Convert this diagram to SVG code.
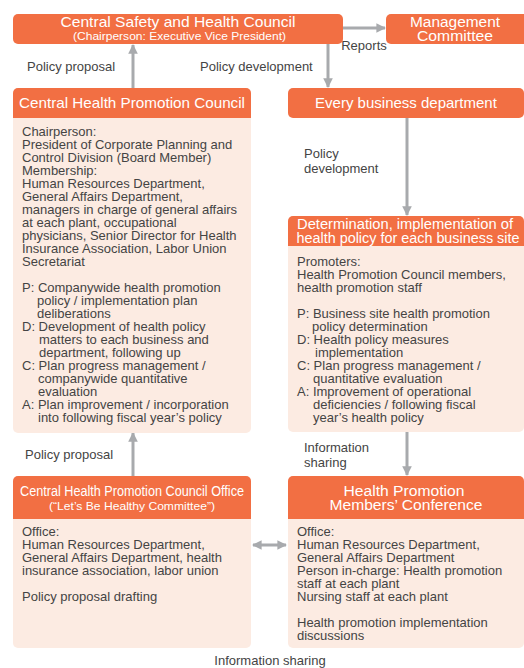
<svg xmlns="http://www.w3.org/2000/svg" width="524" height="668" viewBox="0 0 524 668">
<defs>
<style>
.hdr{fill:#F26F43}
.body{fill:#FCEBE2}
.ht{font-family:"Liberation Sans",Arial,sans-serif;fill:#fff;font-size:15px;text-anchor:middle}
.h2{font-family:"Liberation Sans",Arial,sans-serif;fill:#fff;font-size:14px;text-anchor:middle}
.hs{font-family:"Liberation Sans",Arial,sans-serif;fill:#fff;font-size:11px;text-anchor:middle}
.bt{font-family:"Liberation Sans",Arial,sans-serif;fill:#444;font-size:13px}
.lbl{font-family:"Liberation Sans",Arial,sans-serif;fill:#444;font-size:13px}
.arr{stroke:#A8AAAD;stroke-width:3;fill:none}
</style>
<marker id="ah" viewBox="0 0 10 10" refX="9" refY="5" markerWidth="3.2" markerHeight="3.2" orient="auto-start-reverse" markerUnits="strokeWidth">
<path d="M0,0 L10,5 L0,10 z" fill="#A8AAAD"/>
</marker>
</defs>
<rect width="524" height="668" fill="#fff"/>

<g id="connectors">
<line class="arr" x1="343" y1="28" x2="385" y2="28" marker-end="url(#ah)"/>
<line class="arr" x1="133" y1="88" x2="133" y2="45" marker-end="url(#ah)"/>
<line class="arr" x1="328" y1="44" x2="328" y2="87" marker-end="url(#ah)"/>
<line class="arr" x1="407" y1="118" x2="407" y2="215" marker-end="url(#ah)"/>
<line class="arr" x1="407" y1="432" x2="407" y2="475" marker-end="url(#ah)"/>
<line class="arr" x1="133" y1="476" x2="133" y2="433" marker-end="url(#ah)"/>
<line class="arr" x1="253" y1="545" x2="286" y2="545" marker-start="url(#ah)" marker-end="url(#ah)"/>
<text class="lbl" x="364" y="50" text-anchor="middle">Reports</text>
<text class="lbl" x="27" y="71">Policy proposal</text>
<text class="lbl" x="200" y="71">Policy development</text>
<text class="lbl" x="304" y="158">Policy</text>
<text class="lbl" x="304" y="173">development</text>
<text class="lbl" x="304" y="452">Information</text>
<text class="lbl" x="304" y="467">sharing</text>
<text class="lbl" x="25" y="459">Policy proposal</text>
<text class="lbl" x="270" y="665" text-anchor="middle">Information sharing</text>
</g>

<g id="central-safety-health-council">
<rect class="hdr" x="13" y="14" width="330" height="30" rx="5"/>
<text class="ht" x="178" y="27" textLength="235" lengthAdjust="spacingAndGlyphs">Central Safety and Health Council</text>
<text class="hs" x="179.5" y="40" textLength="213" lengthAdjust="spacingAndGlyphs">(Chairperson: Executive Vice President)</text>
</g>

<g id="management-committee">
<rect class="hdr" x="386" y="14" width="142" height="30" rx="5"/>
<text class="h2" x="455" y="27" textLength="90" lengthAdjust="spacingAndGlyphs">Management</text>
<text class="h2" x="455" y="41" textLength="76" lengthAdjust="spacingAndGlyphs">Committee</text>
</g>

<g id="central-health-promotion-council">
<rect class="body" x="13" y="88" width="238" height="345" rx="5"/>
<path class="hdr" d="M13,118 V93 a5,5 0 0 1 5,-5 H246 a5,5 0 0 1 5,5 V118 z"/>
<text class="ht" x="132" y="108" textLength="226" lengthAdjust="spacingAndGlyphs">Central Health Promotion Council</text>
<text class="bt">
<tspan x="22" y="136">Chairperson:</tspan>
<tspan x="22" dy="13">President of Corporate Planning and</tspan>
<tspan x="22" dy="13">Control Division (Board Member)</tspan>
<tspan x="22" dy="13">Membership:</tspan>
<tspan x="22" dy="13">Human Resources Department,</tspan>
<tspan x="22" dy="13">General Affairs Department,</tspan>
<tspan x="22" dy="13">managers in charge of general affairs</tspan>
<tspan x="22" dy="13">at each plant, occupational</tspan>
<tspan x="22" dy="13">physicians, Senior Director for Health</tspan>
<tspan x="22" dy="13">Insurance Association, Labor Union</tspan>
<tspan x="22" dy="13">Secretariat</tspan>
<tspan x="22" dy="26">P: Companywide health promotion</tspan>
<tspan x="37" dy="13">policy / implementation plan</tspan>
<tspan x="37" dy="13">deliberations</tspan>
<tspan x="22" dy="13">D: Development of health policy</tspan>
<tspan x="39" dy="13">matters to each business and</tspan>
<tspan x="39" dy="13">department, following up</tspan>
<tspan x="22" dy="13">C: Plan progress management /</tspan>
<tspan x="38" dy="13">companywide quantitative</tspan>
<tspan x="38" dy="13">evaluation</tspan>
<tspan x="22" dy="13">A: Plan improvement / incorporation</tspan>
<tspan x="38" dy="13">into following fiscal year’s policy</tspan>
</text>
</g>

<g id="every-business-department">
<rect class="hdr" x="288" y="88" width="236" height="30" rx="5"/>
<text class="ht" x="406" y="108">Every business department</text>
</g>

<g id="determination-implementation">
<rect class="body" x="288" y="216" width="236" height="216" rx="5"/>
<path class="hdr" d="M288,246 V221 a5,5 0 0 1 5,-5 H519 a5,5 0 0 1 5,5 V246 z"/>
<text class="h2" x="405" y="229" textLength="216" lengthAdjust="spacingAndGlyphs">Determination, implementation of</text>
<text class="h2" x="408" y="243" textLength="223" lengthAdjust="spacingAndGlyphs">health policy for each business site</text>
<text class="bt">
<tspan x="297" y="266">Promoters:</tspan>
<tspan x="297" dy="13">Health Promotion Council members,</tspan>
<tspan x="297" dy="13">health promotion staff</tspan>
<tspan x="297" dy="26">P: Business site health promotion</tspan>
<tspan x="312" dy="13">policy determination</tspan>
<tspan x="297" dy="13">D: Health policy measures</tspan>
<tspan x="315" dy="13">implementation</tspan>
<tspan x="297" dy="13">C: Plan progress management /</tspan>
<tspan x="313" dy="13">quantitative evaluation</tspan>
<tspan x="297" dy="13">A: Improvement of operational</tspan>
<tspan x="313" dy="13">deficiencies / following fiscal</tspan>
<tspan x="313" dy="13">year’s health policy</tspan>
</text>
</g>

<g id="chpc-office">
<rect class="body" x="13" y="476" width="238" height="172" rx="5"/>
<path class="hdr" d="M13,519 V481 a5,5 0 0 1 5,-5 H246 a5,5 0 0 1 5,5 V519 z"/>
<text class="h2" x="132" y="496" textLength="224" lengthAdjust="spacingAndGlyphs">Central Health Promotion Council Office</text>
<text class="hs" x="132" y="510" textLength="166" lengthAdjust="spacingAndGlyphs">(“Let’s Be Healthy Committee”)</text>
<text class="bt">
<tspan x="22" y="536">Office:</tspan>
<tspan x="22" dy="13">Human Resources Department,</tspan>
<tspan x="22" dy="13">General Affairs Department, health</tspan>
<tspan x="22" dy="13">insurance association, labor union</tspan>
<tspan x="22" dy="26">Policy proposal drafting</tspan>
</text>
</g>

<g id="health-promotion-members-conference">
<rect class="body" x="288" y="476" width="236" height="172" rx="5"/>
<path class="hdr" d="M288,519 V481 a5,5 0 0 1 5,-5 H519 a5,5 0 0 1 5,5 V519 z"/>
<text class="h2" x="404" y="496" textLength="121" lengthAdjust="spacingAndGlyphs">Health Promotion</text>
<text class="h2" x="406" y="510" textLength="153" lengthAdjust="spacingAndGlyphs">Members’ Conference</text>
<text class="bt">
<tspan x="297" y="536">Office:</tspan>
<tspan x="297" dy="13">Human Resources Department,</tspan>
<tspan x="297" dy="13">General Affairs Department</tspan>
<tspan x="297" dy="13">Person in-charge: Health promotion</tspan>
<tspan x="297" dy="13">staff at each plant</tspan>
<tspan x="297" dy="13">Nursing staff at each plant</tspan>
<tspan x="297" dy="26">Health promotion implementation</tspan>
<tspan x="297" dy="13">discussions</tspan>
</text>
</g>
</svg>
